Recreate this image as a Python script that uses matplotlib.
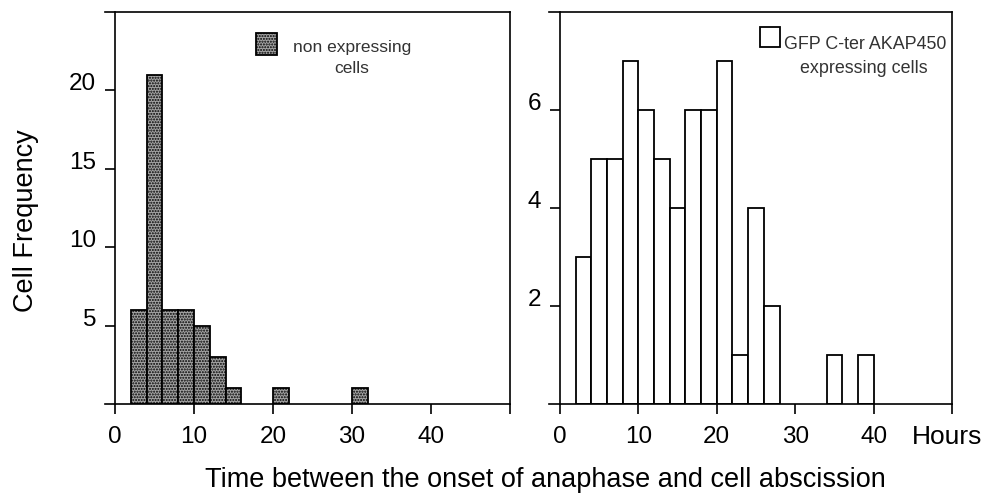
import matplotlib
matplotlib.use("Agg")
import matplotlib.pyplot as plt
from matplotlib.patches import Rectangle
import numpy as np

plt.rcParams['font.family'] = ['Liberation Sans', 'DejaVu Sans']
plt.rcParams['hatch.linewidth'] = 1.0

# Data (bin left edges, width 2 hours)
bin_width = 2
non_expr_left = [2, 4, 6, 8, 10, 12, 14, 20, 30]
non_expr_count = [6, 21, 6, 6, 5, 3, 1, 1, 1]

gfp_left = [2, 4, 6, 8, 10, 12, 14, 16, 18, 20, 22, 24, 26, 34, 38]
gfp_count = [3, 5, 5, 7, 6, 5, 4, 6, 6, 7, 1, 4, 2, 1, 1]

x_ticks = [0, 10, 20, 30, 40, 50]
x_ticklabels = ['0', '10', '20', '30', '40', '']
left_yticks = [5, 10, 15, 20]
right_yticks = [2, 4, 6]

W, H = 986, 495
fig = plt.figure(figsize=(W / 100, H / 100), dpi=100)

def px_axes(x0, x1, y0, y1):
    return fig.add_axes([x0 / W, 1 - y1 / H, (x1 - x0) / W, (y1 - y0) / H])

ax1 = px_axes(105, 510, 12, 404)
ax2 = px_axes(549, 952, 12, 404)

fill = '#a4a4a4'
ax1.bar(non_expr_left, non_expr_count, width=bin_width, align='edge',
        facecolor=fill, edgecolor='black', linewidth=1.3, hatch='......')
ax2.bar(gfp_left, gfp_count, width=bin_width, align='edge',
        facecolor='white', edgecolor='black', linewidth=1.3)

for ax, xmin, ymax, yt in [(ax1, -1.27, 25, left_yticks), (ax2, -1.4, 8, right_yticks)]:
    ax.set_xlim(xmin, 50)
    ax.set_ylim(0, ymax)
    ax.spines['left'].set_position(('data', 0))
    for s in ax.spines.values():
        s.set_linewidth(1.2)
    ax.set_xticks(x_ticks)
    ax.set_xticklabels(x_ticklabels)
    ax.set_yticks(yt)
    ax.set_yticklabels([str(v) for v in yt])
    ax.tick_params(axis='both', direction='out', length=7.5, width=1.2,
                   labelsize=17.5, colors='black')
    ax.tick_params(axis='x', pad=8)
    ax.tick_params(axis='y', pad=6)
    for lab in ax.get_yticklabels():
        lab.set_verticalalignment('baseline')

# Legends (manual, centered two-line text)
ax1.add_patch(Rectangle((0.373, 0.890), 0.052, 0.056, transform=ax1.transAxes,
                        facecolor=fill, edgecolor='black', linewidth=1.3,
                        hatch='......', clip_on=False))
ax1.text(0.61, 0.898, 'non expressing', transform=ax1.transAxes, ha='center',
         va='baseline', fontsize=12.5, color='#333333')
ax1.text(0.61, 0.844, 'cells', transform=ax1.transAxes, ha='center',
         va='baseline', fontsize=12.5, color='#333333')

ax2.add_patch(Rectangle((0.524, 0.911), 0.049, 0.051, transform=ax2.transAxes,
                        facecolor='white', edgecolor='black', linewidth=1.3,
                        clip_on=False))
ax2.text(0.784, 0.906, 'GFP C-ter AKAP450', transform=ax2.transAxes, ha='center',
         va='baseline', fontsize=12.9, color='#333333')
ax2.text(0.780, 0.844, 'expressing cells', transform=ax2.transAxes, ha='center',
         va='baseline', fontsize=12.9, color='#333333')

fig.text(912 / W, 1 - 437 / H, 'Hours', ha='left', va='center', fontsize=19)
fig.text(545 / W, 1 - 487 / H, 'Time between the onset of anaphase and cell abscission',
         ha='center', va='baseline', fontsize=19.5)
fig.text(26 / W, 1 - 221 / H, 'Cell Frequency', rotation=90, ha='center',
         va='center', fontsize=19.5)

fig.savefig('out.png', dpi=100)
